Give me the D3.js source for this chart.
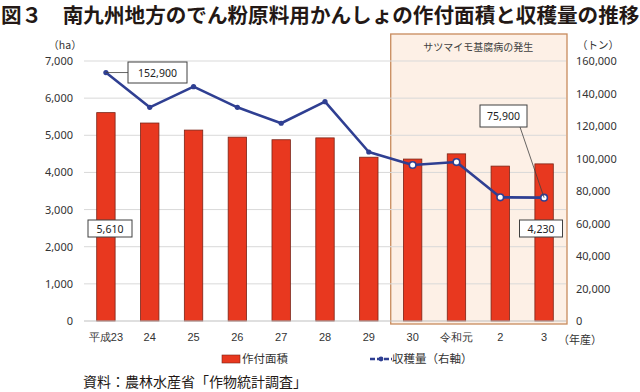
<!DOCTYPE html>
<html><head><meta charset="utf-8">
<script src="https://cdn.jsdelivr.net/npm/d3@7"></script>
<style>
html,body{margin:0;padding:0;background:#fff;}
svg{display:block;font-family:"Noto Sans CJK JP","Noto Sans",sans-serif;}
</style></head>
<body>
<svg id="c" width="640" height="392"></svg>
<script>
const categories = ["平成23","24","25","26","27","28","29","30","令和元","2","3"];
const areaHa = [5610,5330,5140,4950,4880,4930,4410,4360,4500,4170,4230];
const harvestT = [152900,131500,144200,131500,121700,135000,104000,96000,97800,76100,75900];
const leftTicks = [0,1000,2000,3000,4000,5000,6000,7000];
const rightTicks = [0,20000,40000,60000,80000,100000,120000,140000,160000];
const diseaseStart = "30";
const labelNotes = [
  {series:"area", idx:0, text:"5,610"},
  {series:"area", idx:10, text:"4,230"},
  {series:"harvest", idx:0, text:"152,900"},
  {series:"harvest", idx:10, text:"75,900"}
];

const svg = d3.select("#c");
const L = 84, R = 566, T = 61, B = 321;
const x = d3.scaleBand().domain(categories).range([L, R]).paddingInner(0.58).paddingOuter(0.29);
const yL = d3.scaleLinear().domain([0,7000]).range([B, T]);
const yR = d3.scaleLinear().domain([0,160000]).range([B, T]);
const cx = d => x(d) + x.bandwidth()/2;

// title
svg.append("text").attr("x", 1).attr("y", 23)
  .attr("font-size", 20.6).attr("font-weight", "bold").attr("fill", "#231815")
  .text("図３　南九州地方のでん粉原料用かんしょの作付面積と収穫量の推移");

// shaded region
const sx0 = x(diseaseStart) - x.step()*x.paddingInner()/2;
svg.append("rect").attr("x", sx0).attr("y", 34).attr("width", R - sx0 + 1).attr("height", 324 - 34)
  .attr("fill", "#fdf0e6").attr("stroke", "#c88a5c").attr("stroke-width", 1.3);
svg.append("text").attr("x", (sx0 + R)/2).attr("y", 51).attr("text-anchor", "middle")
  .attr("font-size", 10).attr("fill", "#404040").text("サツマイモ基腐病の発生");

// gridlines
svg.append("g").selectAll("line").data(leftTicks.filter(d=>d>0)).join("line")
  .attr("x1", L).attr("x2", R).attr("y1", d=>yL(d)).attr("y2", d=>yL(d))
  .attr("stroke", "#d9d9d9").attr("stroke-width", 1);

// left axis
const ga = svg.append("g").attr("transform", `translate(${L-11},0)`)
  .call(d3.axisLeft(yL).tickValues(leftTicks).tickFormat(d3.format(",")).tickSize(0).tickPadding(0));
ga.select(".domain").remove();
ga.selectAll("text").attr("font-size", 11).attr("fill", "#333").attr("font-family", "'Noto Sans','DejaVu Sans',sans-serif");

// right axis
const gr = svg.append("g").attr("transform", `translate(${R+10},0)`)
  .call(d3.axisRight(yR).tickValues(rightTicks).tickFormat(d3.format(",")).tickSize(0).tickPadding(0));
gr.select(".domain").remove();
gr.selectAll("text").attr("font-size", 11).attr("fill", "#333").attr("font-family", "'Noto Sans','DejaVu Sans',sans-serif");

// axis unit labels
svg.append("text").attr("x", 65).attr("y", 49).attr("text-anchor", "middle").attr("font-size", 10.5).attr("fill", "#333").text("（ha）");
svg.append("text").attr("x", 598).attr("y", 49).attr("text-anchor", "middle").attr("font-size", 10.5).attr("fill", "#333").text("（トン）");

// bars
svg.append("g").selectAll("rect").data(categories).join("rect")
  .attr("x", d => x(d)).attr("width", x.bandwidth())
  .attr("y", (d,i) => yL(areaHa[i])).attr("height", (d,i) => B - yL(areaHa[i]))
  .attr("fill", "#e8381f").attr("stroke", "#7a2417").attr("stroke-width", 0.8);

// baseline
svg.append("line").attr("x1", L).attr("x2", R).attr("y1", B).attr("y2", B).attr("stroke", "#bfbfbf");

// x labels
const gx = svg.append("g").attr("transform", `translate(0,${B})`)
  .call(d3.axisBottom(x).tickSize(0).tickPadding(0));
gx.select(".domain").remove();
gx.selectAll("text").attr("font-size", 11).attr("fill", "#333").attr("dy", "1.35em").attr("y", 5);
svg.append("text").attr("x", 580).attr("y", 344).attr("text-anchor", "middle").attr("font-size", 11).attr("fill", "#333").text("（年産）");

// line
const line = d3.line().x((d,i) => cx(categories[i])).y(d => yR(d));
svg.append("path").datum(harvestT).attr("d", line).attr("fill", "none")
  .attr("stroke", "#2f3f92").attr("stroke-width", 2.6).attr("stroke-linejoin", "round");
const si = categories.indexOf(diseaseStart);
svg.append("g").selectAll("circle").data(harvestT).join("circle")
  .attr("cx", (d,i) => cx(categories[i])).attr("cy", d => yR(d))
  .attr("r", (d,i) => i >= si ? 3.3 : 2.6)
  .attr("fill", (d,i) => i >= si ? "#fff" : "#2f3f92")
  .attr("stroke", "#2f3f92").attr("stroke-width", (d,i) => i >= si ? 1.6 : 0);

// label boxes
function box(xc, yc, w, h, text){
  svg.append("rect").attr("x", xc - w/2).attr("y", yc - h/2).attr("width", w).attr("height", h)
    .attr("fill", "#fff").attr("stroke", "#404040").attr("stroke-width", 1);
  svg.append("text").attr("x", xc).attr("y", yc + 4).attr("text-anchor", "middle")
    .attr("font-size", 10.5).attr("fill", "#222").attr("font-family", "'Noto Sans','DejaVu Sans',sans-serif").text(text);
}
{
  const px = cx(categories[0]), py = yR(harvestT[0]);
  svg.append("line").attr("x1", px).attr("y1", py).attr("x2", 128).attr("y2", py).attr("stroke", "#404040").attr("stroke-width", 0.8);
  box(157.5, 72.5, 59, 21, labelNotes[2].text);
}
{
  const px = cx(categories[10]), py = yR(harvestT[10]);
  svg.append("line").attr("x1", px).attr("y1", py).attr("x2", 520).attr("y2", 127).attr("stroke", "#404040").attr("stroke-width", 0.8);
  box(503.5, 116, 47, 22, labelNotes[3].text);
}
box(110, 228.5, 44, 17, labelNotes[0].text);
box(541, 228.5, 43, 17, labelNotes[1].text);

// legend
svg.append("rect").attr("x", 222).attr("y", 355).attr("width", 18).attr("height", 8).attr("fill", "#e8381f").attr("stroke", "#7a2417").attr("stroke-width", 0.6);
svg.append("text").attr("x", 242).attr("y", 363).attr("font-size", 11.5).attr("fill", "#333").text("作付面積");
svg.append("line").attr("x1", 370).attr("x2", 392).attr("y1", 359).attr("y2", 359).attr("stroke", "#2f3f92").attr("stroke-width", 2.6).attr("stroke-dasharray", "5,2");
svg.append("circle").attr("cx", 381).attr("cy", 359).attr("r", 2.4).attr("fill", "#2f3f92");
svg.append("text").attr("x", 392).attr("y", 363).attr("font-size", 11.5).attr("fill", "#333").text("収穫量（右軸）");

// source
svg.append("text").attr("x", 83).attr("y", 387).attr("font-size", 14).attr("fill", "#231815").text("資料：農林水産省「作物統計調査」");
</script>
</body></html>
